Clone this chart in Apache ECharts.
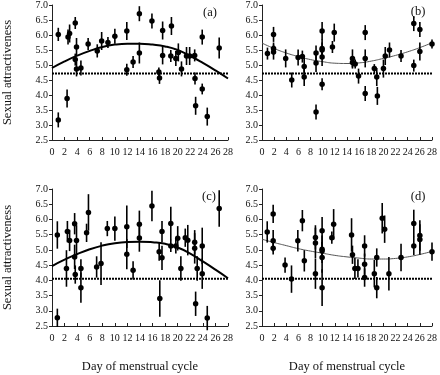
<!DOCTYPE html>
<html>
<head>
<meta charset="utf-8">
<script src="https://cdn.jsdelivr.net/npm/echarts@6/dist/echarts.min.js"></script>
<style>
  html, body { margin: 0; padding: 0; background: #fff; }
  #chart { width: 440px; height: 375px; }
</style>
</head>
<body>
<div id="chart"></div>
<script>
// day, mean rating, error (half bar)
const aPoints = [
  [1.0, 6.02, 0.22], [1.0, 3.17, 0.25], [2.4, 3.88, 0.3], [2.55, 5.93, 0.25], [2.8, 6.05, 0.3],
  [3.7, 6.4, 0.2], [3.9, 5.6, 0.3], [3.7, 5.18, 0.2], [3.9, 4.87, 0.25], [4.6, 4.9, 0.25],
  [5.75, 5.7, 0.2], [7.2, 5.47, 0.22], [7.9, 5.8, 0.3], [8.9, 5.75, 0.18], [10.0, 5.96, 0.25],
  [11.9, 6.13, 0.3], [11.9, 4.84, 0.2], [12.9, 5.1, 0.2], [13.9, 6.71, 0.25], [13.9, 5.4, 0.35],
  [15.9, 6.47, 0.25], [17.0, 4.77, 0.15], [17.1, 4.57, 0.2], [17.6, 6.15, 0.3], [17.6, 5.32, 0.3],
  [18.9, 5.3, 0.2], [19.0, 6.3, 0.3], [19.7, 5.22, 0.25], [20.1, 5.42, 0.3], [20.6, 4.87, 0.25],
  [21.4, 5.3, 0.3], [21.9, 5.3, 0.3], [22.7, 5.32, 0.2], [22.75, 4.55, 0.2], [22.85, 3.64, 0.3],
  [23.9, 4.2, 0.18], [23.9, 5.93, 0.25], [24.7, 3.28, 0.3], [26.6, 5.57, 0.35]
]
const bPoints = [
  [0.9, 5.38, 0.2], [1.9, 6.02, 0.25], [1.9, 5.55, 0.2], [1.9, 5.43, 0.25], [3.9, 5.22, 0.3],
  [4.9, 4.5, 0.25], [5.95, 5.25, 0.27], [6.65, 5.28, 0.2], [6.95, 4.95, 0.3], [6.95, 4.6, 0.3],
  [8.9, 5.4, 0.25], [8.9, 5.07, 0.3], [8.9, 3.43, 0.25], [9.9, 6.13, 0.3], [9.9, 5.55, 0.3],
  [9.9, 5.5, 0.25], [9.9, 5.27, 0.3], [9.9, 4.36, 0.2], [11.6, 5.6, 0.2], [11.9, 6.08, 0.3],
  [14.9, 5.22, 0.3], [14.9, 5.08, 0.2], [15.35, 5.03, 0.15], [15.9, 4.63, 0.25], [17.0, 6.08, 0.25],
  [17.0, 5.22, 0.3], [17.0, 4.05, 0.25], [18.5, 4.88, 0.15], [18.9, 4.6, 0.3], [19.0, 3.97, 0.3],
  [20.0, 4.88, 0.3], [20.3, 5.3, 0.3], [21.0, 5.5, 0.25], [22.9, 5.3, 0.2], [25.0, 6.38, 0.25],
  [25.0, 4.98, 0.2], [26.0, 6.18, 0.25], [26.0, 5.45, 0.3], [28.0, 5.7, 0.15]
]
const cPoints = [
  [0.85, 5.49, 0.45], [0.85, 2.77, 0.3], [2.3, 4.39, 0.6], [2.45, 5.6, 0.35], [2.8, 5.31, 0.35],
  [3.6, 5.86, 0.35], [3.6, 4.77, 0.4], [3.7, 4.19, 0.3], [3.9, 5.31, 0.5], [4.6, 4.39, 0.3],
  [4.6, 3.76, 0.5], [5.5, 5.56, 0.3], [5.8, 6.23, 0.6], [7.1, 4.44, 0.35], [7.8, 4.55, 0.7],
  [8.8, 5.7, 0.25], [10.0, 5.7, 0.4], [11.9, 5.76, 0.7], [11.9, 4.86, 0.5], [12.9, 4.33, 0.3],
  [13.9, 5.84, 0.45], [13.9, 5.39, 0.45], [15.9, 6.44, 0.5], [17.05, 4.94, 0.3], [17.15, 3.4, 0.6],
  [17.5, 5.6, 0.35], [17.5, 4.74, 0.4], [18.9, 5.87, 0.55], [18.9, 5.13, 0.2], [19.7, 5.13, 0.25],
  [20.0, 5.38, 0.4], [20.5, 4.39, 0.4], [21.2, 5.4, 0.3], [21.6, 5.32, 0.5], [22.7, 5.25, 0.4],
  [22.7, 5.05, 0.5], [22.85, 3.23, 0.4], [23.1, 4.39, 0.4], [23.9, 5.13, 0.6], [23.9, 4.22, 0.5],
  [24.7, 2.76, 0.4], [26.6, 6.36, 0.6]
]
const dPoints = [
  [0.86, 5.59, 0.35], [1.84, 6.18, 0.3], [1.84, 5.3, 0.35], [1.84, 5.05, 0.2], [3.8, 4.5, 0.25],
  [4.86, 4.04, 0.45], [5.9, 5.3, 0.35], [6.65, 5.96, 0.35], [6.97, 4.64, 0.35], [8.8, 5.41, 0.4],
  [8.8, 5.23, 0.5], [8.8, 4.22, 0.5], [9.9, 5.63, 0.45], [9.9, 5.02, 0.45], [9.9, 4.96, 0.3],
  [9.9, 4.75, 0.5], [9.9, 3.76, 0.6], [11.5, 5.4, 0.2], [11.8, 5.84, 0.5], [14.75, 5.49, 0.55],
  [14.9, 4.84, 0.3], [15.3, 4.39, 0.35], [15.8, 4.39, 0.3], [16.9, 5.13, 0.35], [16.9, 4.53, 0.35],
  [16.9, 4.09, 0.3], [18.5, 4.22, 0.45], [18.9, 4.75, 0.3], [18.9, 3.76, 0.35], [19.8, 6.04, 0.5],
  [20.2, 5.68, 0.45], [20.9, 4.22, 0.55], [22.9, 4.75, 0.45], [25.0, 5.87, 0.45], [25.0, 5.13, 0.3],
  [26.0, 5.47, 0.5], [26.0, 5.34, 0.5], [28.0, 4.94, 0.3]
]

// fitted curves
const aCurve = [[0, 4.9], [2, 5.12], [4, 5.31], [6, 5.47], [8, 5.6], [10, 5.68], [12, 5.71], [14, 5.71],
  [16, 5.68], [18, 5.62], [20, 5.5], [22, 5.3], [24, 5.07], [26, 4.82], [28, 4.55]]
const bCurve = [[0, 5.73], [2, 5.55], [4, 5.4], [6, 5.28], [8, 5.18], [10, 5.11], [12, 5.06], [14, 5.05],
  [16, 5.07], [18, 5.13], [20, 5.22], [22, 5.32], [24, 5.44], [26, 5.58], [28, 5.74]]
const cCurve = [[0, 4.47], [2, 4.68], [4, 4.86], [6, 5.02], [8, 5.14], [10, 5.22], [12, 5.26], [14, 5.27],
  [16, 5.25], [18, 5.2], [20, 5.08], [22, 4.88], [24, 4.62], [26, 4.35], [28, 4.07]]
const dCurve = [[0, 5.35], [2, 5.24], [4, 5.14], [6, 5.04], [8, 4.96], [10, 4.89], [12, 4.82], [14, 4.77],
  [16, 4.73], [18, 4.7], [20, 4.7], [22, 4.72], [24, 4.77], [26, 4.85], [28, 4.95]]

// dotted reference level per panel
const baselines = [4.72, 4.72, 4.05, 4.05]
const panelLabels = ['(a)', '(b)', '(c)', '(d)']
const xRange = [0, 28]
const yRange = [2.5, 7.0]

const points = [aPoints, bPoints, cPoints, dPoints]
const curves = [aCurve, bCurve, cCurve, dCurve]

const font = 'Liberation Serif'

const grids = [
  { left: 52, top: 4, width: 176, height: 136 },
  { left: 262, top: 4, width: 173, height: 136 },
  { left: 52, top: 189, width: 176, height: 137 },
  { left: 262, top: 189, width: 173, height: 137 }
]

const renderErr = (params, api) => {
  const x = api.value(0)
  const y = api.value(1)
  const e = api.value(2)
  const p1 = api.coord([x, y + e])
  const p2 = api.coord([x, y - e])
  return {
    type: 'line',
    shape: { x1: p1[0], y1: p1[1], x2: p2[0], y2: p2[1] },
    style: { stroke: '#000', lineWidth: 1.6 }
  }
}

const xAxes = grids.map((g, i) => ({
  type: 'value',
  gridIndex: i,
  min: xRange[0],
  max: xRange[1],
  interval: 2,
  name: i >= 2 ? 'Day of menstrual cycle' : '',
  nameLocation: 'middle',
  nameGap: 34,
  nameTextStyle: { fontFamily: font, fontSize: 12.5, color: '#111' },
  splitLine: { show: false },
  axisLine: { lineStyle: { color: '#222', width: 1 } },
  axisTick: { inside: true, length: 3, lineStyle: { color: '#222' } },
  axisLabel: { fontFamily: font, fontSize: 10, color: '#111', margin: 7 }
}))

const yAxes = grids.map((g, i) => ({
  type: 'value',
  gridIndex: i,
  min: yRange[0],
  max: yRange[1],
  interval: 0.5,
  name: i % 2 === 0 ? 'Sexual attractiveness' : '',
  nameLocation: 'middle',
  nameGap: 38,
  nameTextStyle: { fontFamily: font, fontSize: 12.5, color: '#111' },
  splitLine: { show: false },
  axisLine: { lineStyle: { color: '#222', width: 1 } },
  axisTick: { length: 3, lineStyle: { color: '#222' } },
  axisLabel: {
    fontFamily: font, fontSize: 10, color: '#111', margin: 4,
    formatter: v => v.toFixed(1)
  }
}))

const series = []
points.forEach((pts, i) => {
  const thick = i === 0 || i === 2
  series.push({
    type: 'line',
    xAxisIndex: i,
    yAxisIndex: i,
    data: curves[i],
    smooth: true,
    symbol: 'none',
    lineStyle: { color: thick ? '#000' : '#555', width: thick ? 2 : 1 },
    z: 1
  })
  series.push({
    type: 'line',
    xAxisIndex: i,
    yAxisIndex: i,
    data: [[xRange[0], baselines[i]], [xRange[1], baselines[i]]],
    symbol: 'none',
    lineStyle: { color: '#000', width: 2, type: [2, 1] },
    z: 1
  })
  series.push({
    type: 'custom',
    xAxisIndex: i,
    yAxisIndex: i,
    renderItem: renderErr,
    encode: { x: 0, y: 1 },
    data: pts,
    z: 2
  })
  series.push({
    type: 'scatter',
    xAxisIndex: i,
    yAxisIndex: i,
    data: pts.map(p => [p[0], p[1]]),
    symbolSize: 5.5,
    itemStyle: { color: '#000', opacity: 1 },
    z: 3
  })
})

const labelPos = [[210, 13], [418, 12], [209, 197], [418, 197]]

const chart = echarts.init(document.getElementById('chart'))
const option = {
  animation: false,
  backgroundColor: '#fff',
  grid: grids,
  xAxis: xAxes,
  yAxis: yAxes,
  series: series,
  graphic: panelLabels.map((t, i) => ({
    type: 'text',
    x: labelPos[i][0],
    y: labelPos[i][1],
    style: {
      text: t,
      font: '12.5px "Liberation Serif"',
      fill: '#111',
      textAlign: 'center',
      textVerticalAlign: 'middle'
    }
  }))
}
chart.setOption(option)

window.addEventListener('resize', () => {
  chart.resize()
})
</script>
</body>
</html>
